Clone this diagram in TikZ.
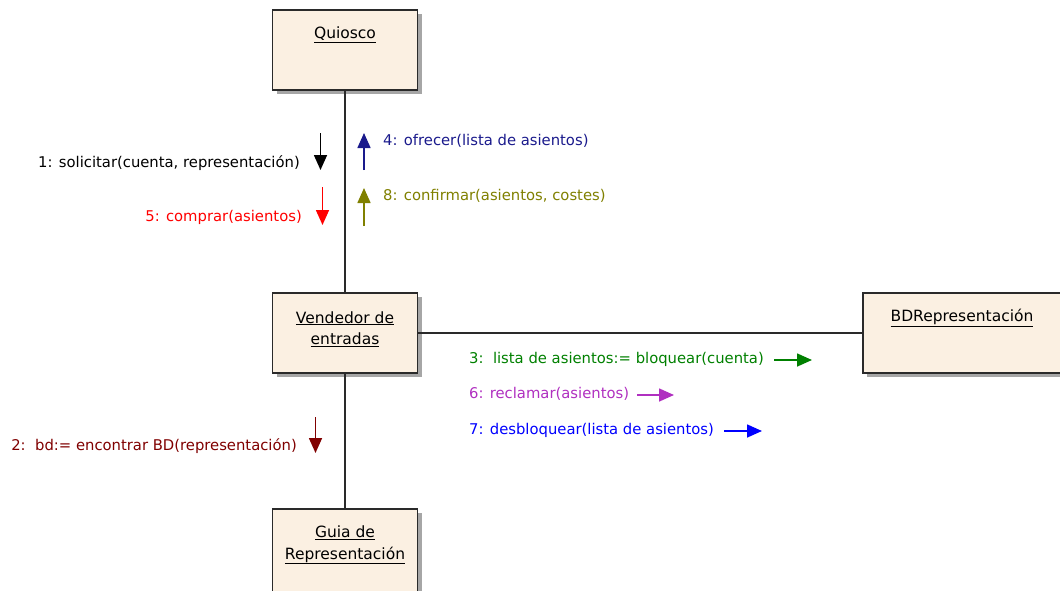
\documentclass[tikz,border=0pt]{standalone}
\usepackage{fontspec}
\setmainfont{DejaVu Sans}
\usetikzlibrary{arrows.meta,shadows}

\definecolor{boxfill}{HTML}{FBF0E2}
\definecolor{boxline}{HTML}{2A2A2A}
\definecolor{msgnavy}{HTML}{1A1A8C}
\definecolor{msgolive}{HTML}{808000}
\definecolor{msggreen}{HTML}{008000}
\definecolor{msgmagenta}{HTML}{B030C0}
\definecolor{msgblue}{HTML}{0000FF}
\definecolor{msgdarkred}{HTML}{800000}

\tikzset{
  objbox/.style={draw=boxline, line width=1.5pt, fill=boxfill,
    minimum width=145pt, minimum height=80pt, inner sep=0pt,
    general shadow={fill=black!35, shadow xshift=4pt, shadow yshift=-4pt}},
  objname/.style={align=center, inner sep=0pt, font=\fontsize{15.5}{21.5}\selectfont},
  link/.style={draw=boxline, line width=2pt},
  msg/.style={inner sep=0pt, text height=11pt, text depth=3pt,
    font=\fontsize{14.8}{17}\selectfont},
  msgarrow/.style={line width=1.6pt, -{Triangle[length=15pt,width=13pt]}}
}

\begin{document}
\begin{tikzpicture}[x=1pt,y=-1pt]
\useasboundingbox (0,0) rectangle (1060,590);

% objects
\node[objbox] (q)  at (345,50)  {};
\node[objbox] (v)  at (345,333) {};
\node[objbox, minimum width=224pt] (bd) at (975,333) {};
\node[objbox, minimum height=100pt] (g) at (345,559) {};

\node[objname] (qt)  at (345,35)  {\underline{Quiosco}};
\node[objname] (vt)  at (345,329) {\underline{Vendedor de}\\\underline{entradas}};
\node[objname] (bdt) at (962,318) {\underline{BDRepresentación}};
\node[objname] (gt)  at (345,545) {\underline{Guia de}\\\underline{Representación}};

% links
\draw[link] (q.south) -- (v.north);
\draw[link] (v.east) -- (bd.west);
\draw[link] (v.south) -- (g.north);

% messages Quiosco <-> Vendedor
\node[msg, anchor=east] (l1) at (300,163) {1: solicitar(cuenta, representación)};
\node[msg, anchor=east, text=red] (l5) at (302,217) {5: comprar(asientos)};
\node[msg, anchor=west, text=msgnavy] (l4) at (383,141) {4: ofrecer(lista de asientos)};
\node[msg, anchor=west, text=msgolive] (l8) at (383,196) {8: confirmar(asientos, costes)};

\coordinate (m1a) at (320.5,133); \coordinate (m1b) at (320.5,170);
\coordinate (m5a) at (322.5,187); \coordinate (m5b) at (322.5,225);
\coordinate (m4a) at (364,170);   \coordinate (m4b) at (364,133);
\coordinate (m8a) at (364,226);   \coordinate (m8b) at (364,188);
\draw[msgarrow, black]    (m1a) -- (m1b);
\draw[msgarrow, red]      (m5a) -- (m5b);
\draw[msgarrow, msgnavy]  (m4a) -- (m4b);
\draw[msgarrow, msgolive] (m8a) -- (m8b);

% messages Vendedor -> BDRepresentacion
\node[msg, anchor=west, text=msggreen] (l3) at (469,359) {3:\ \ lista de asientos:= bloquear(cuenta)};
\node[msg, anchor=west, text=msgmagenta] (l6) at (469,394) {6: reclamar(asientos)};
\node[msg, anchor=west, text=msgblue] (l7) at (469,430) {7: desbloquear(lista de asientos)};

\coordinate (m3a) at (774,360); \coordinate (m3b) at (812,360);
\coordinate (m6a) at (637,395); \coordinate (m6b) at (674,395);
\coordinate (m7a) at (724,431); \coordinate (m7b) at (762,431);
\draw[msgarrow, msggreen]   (m3a) -- (m3b);
\draw[msgarrow, msgmagenta] (m6a) -- (m6b);
\draw[msgarrow, msgblue]    (m7a) -- (m7b);

% message Vendedor -> Guia
\node[msg, anchor=east, text=msgdarkred] (l2) at (297,446) {2:\ \ bd:= encontrar BD(representación)};
\coordinate (m2a) at (315.5,417); \coordinate (m2b) at (315.5,453);
\draw[msgarrow, msgdarkred] (m2a) -- (m2b);
\end{tikzpicture}
\end{document}
